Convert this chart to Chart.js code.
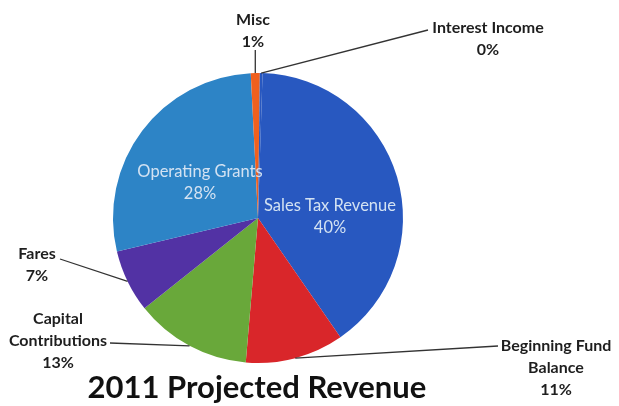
<!DOCTYPE html>
<html><head><meta charset="utf-8">
<script src="https://cdn.jsdelivr.net/npm/chart.js@4.4.0/dist/chart.umd.min.js"></script>
<style>html,body{margin:0;padding:0;background:#fff;}#wrap{width:619px;height:406px;position:relative;}</style>
</head><body><div id="wrap"><canvas id="c" width="619" height="406"></canvas></div>
<script>
const categories = ["Sales Tax Revenue", "Beginning Fund Balance", "Capital Contributions", "Fares", "Operating Grants", "Misc", "Interest Income"];
const values = [40, 11, 13, 7, 28, 1, 0.3];
const colors = ["#2858c0", "#d9262a", "#69a83a", "#5232a4", "#2d84c6", "#f0601e", "#2858c0"];
const titleText = "2011 Projected Revenue";

// label layout: text lines, text anchor (centre x, first baseline y), leader start point
const labelLayout = [
  {inside:true, lines:["Sales Tax Revenue"], x:330, y:211},
  {lines:["Beginning Fund","Balance"], x:556, y:351, lx:498, ly:346},
  {lines:["Capital","Contributions"], x:58, y:324, lx:110, ly:343},
  {lines:["Fares"], x:37, y:259, lx:60, ly:259},
  {inside:true, lines:["Operating Grants"], x:200, y:177},
  {lines:["Misc"], x:253, y:25, lx:253, ly:50, vertical:true},
  {lines:["Interest Income"], x:488, y:33, lx:428, ly:30}
];

const total = values.reduce((a,b)=>a+b,0);

const labelPlugin = {
  id:'labels',
  afterDatasetsDraw(chart){
    const ctx = chart.ctx;
    const meta = chart.getDatasetMeta(0);
    meta.data.forEach((arc,i)=>{
      const L = labelLayout[i];
      const pct = Math.round(values[i]/total*100) + "%";
      const lines = L.lines.concat([pct]);
      ctx.save();
      ctx.textAlign='center';
      ctx.textBaseline='alphabetic';
      if(L.inside){
        ctx.font = '16.5px Lato, "Open Sans", sans-serif';
        ctx.fillStyle = '#d3e2f2';
      } else {
        ctx.font = 'bold 16px Lato, "Open Sans", sans-serif';
        ctx.fillStyle = '#1e1e1e';
        const mid = (arc.startAngle + arc.endAngle)/2;
        const ex = arc.x + Math.cos(mid)*arc.outerRadius;
        const ey = arc.y + Math.sin(mid)*arc.outerRadius;
        ctx.strokeStyle = '#333';
        ctx.lineWidth = 1.3;
        ctx.beginPath();
        if(L.vertical){
          ctx.moveTo(ex, L.ly); ctx.lineTo(ex, ey);
        } else {
          ctx.moveTo(L.lx, L.ly); ctx.lineTo(ex, ey);
        }
        ctx.stroke();
      }
      lines.forEach((t,k)=>ctx.fillText(t, L.x, L.y + k*22));
      ctx.restore();
    });
    ctx.save();
    ctx.font = 'bold 31px Lato, "Open Sans", sans-serif';
    ctx.fillStyle = '#111';
    ctx.textAlign = 'center';
    ctx.textBaseline = 'alphabetic';
    ctx.fillText(titleText, 257, 398);
    ctx.restore();
  }
};

new Chart(document.getElementById('c'), {
  type:'pie',
  data:{labels:categories, datasets:[{data:values, backgroundColor:colors, borderWidth:0}]},
  options:{
    responsive:false, animation:false,
    rotation:1.8,
    layout:{padding:{left:113, right:216, top:73, bottom:43}},
    plugins:{legend:{display:false}, tooltip:{enabled:false}, title:{display:false}}
  },
  plugins:[labelPlugin]
});
</script></body></html>
